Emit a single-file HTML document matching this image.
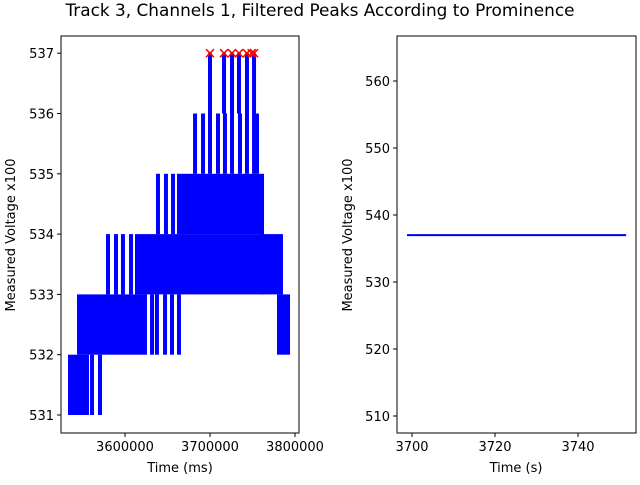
<!DOCTYPE html>
<html><head><meta charset="utf-8"><style>
body{margin:0;background:#fff;}
svg text{font-family:"DejaVu Sans","Liberation Sans",sans-serif;fill:#000;}
</style></head><body>
<svg width="640" height="480" xmlns="http://www.w3.org/2000/svg">
<rect width="640" height="480" fill="#fff"/>
<text x="320" y="16" font-size="16.9" text-anchor="middle">Track 3, Channels 1, Filtered Peaks According to Prominence</text>
<g id="left"></g>
<g id="right"></g>
</svg>
<script>
// Left chart data (ms, voltage x100)
const blockStart=[3535300,3549400,3781200,3614100,3670600,3761200,3663500];
const blockEnd=[3555300,3623500,3791800,3667100,3761200,3783500,3761200];
const blockLow=[531,532,532,533,533,533,534];
const blockHigh=[532,533,533,534,534,534,535];
const spikeTime=[3561200,3570600,3545900,3631800,3637600,3647100,3655300,3663500,3580000,3589400,3597600,3607100,3638800,3648200,3656500,3682400,3691800,3700000,3709400,3717600,3725900,3735300,3743500,3751800,3755300,3700000,3716500,3725900,3734100,3743500,3751800];
const spikeLow=[531,531,532,532,532,532,532,532,533,533,533,533,534,534,534,535,535,535,535,535,535,535,535,535,535,536,536,536,536,536,536];
const spikeHigh=[532,532,533,533,533,533,533,533,534,534,534,534,535,535,535,536,536,536,536,536,536,536,536,536,536,537,537,537,537,537,537];
const peakTime=[3700000,3716500,3725900,3734100,3743500,3751800,3749000];
const peakValue=[537,537,537,537,537,537,537];
const leftXTicks=[3600000,3700000,3800000];
const leftYTicks=[531,532,533,534,535,536,537];
// Right chart data
const rightTime=[3698.8,3751.6];
const rightValue=[537,537];
const rightXTicks=[3700,3720,3740];
const rightYTicks=[510,520,530,540,550,560];

const NS='http://www.w3.org/2000/svg';
function mk(tag,attrs,parent){const e=document.createElementNS(NS,tag);for(const k in attrs)e.setAttribute(k,attrs[k]);parent.appendChild(e);return e;}

// left axes
const L={x0:61,x1:299,y0:36,y1:433};
const lx=t=>125+(t-3600000)/100000*85;
const ly=v=>415-(v-531)*60.3;
const gl=document.getElementById('left');
for(let i=0;i<blockStart.length;i++){
  const r=mk('rect',{x:lx(blockStart[i])-2,y:ly(blockHigh[i]),width:Math.max(lx(blockEnd[i])-lx(blockStart[i]),0)+4,height:ly(blockLow[i])-ly(blockHigh[i]),fill:'#0000ff'},gl);
  
  
}
for(let i=0;i<spikeTime.length;i++){
  const r=mk('rect',{x:lx(spikeTime[i])-2,y:ly(spikeHigh[i]),width:4,height:ly(spikeLow[i])-ly(spikeHigh[i]),fill:'#0000ff'},gl);
  
  
}
for(let i=0;i<peakTime.length;i++){
  const cx=lx(peakTime[i]),cy=ly(peakValue[i]);
  const p=mk('path',{d:`M${cx-4},${cy-4}L${cx+4},${cy+4}M${cx-4},${cy+4}L${cx+4},${cy-4}`,stroke:'#ff0000','stroke-width':1.5,fill:'none'},gl);
  
  
}
const lf=mk('rect',{x:L.x0,y:L.y0,width:L.x1-L.x0,height:L.y1-L.y0,fill:'none',stroke:'#000','stroke-width':1},gl);


leftXTicks.forEach(t=>{const x=lx(t);mk('line',{x1:x,x2:x,y1:L.y1,y2:L.y1+4,stroke:'#000'},gl);
  const tx=mk('text',{x:x,y:L.y1+18,'font-size':13,'text-anchor':'middle'},gl);tx.textContent=t;
  
  });
leftYTicks.forEach(v=>{const y=ly(v);mk('line',{x1:L.x0-4,x2:L.x0,y1:y,y2:y,stroke:'#000'},gl);
  const tx=mk('text',{x:L.x0-7,y:y+5,'font-size':13,'text-anchor':'end'},gl);tx.textContent=v;
  
  });
let t1=mk('text',{x:180,y:472,'font-size':13,'text-anchor':'middle'},gl);t1.textContent='Time (ms)';


let t2=mk('text',{x:15,y:235,'font-size':13,'text-anchor':'middle',transform:'rotate(-90 15 235)'},gl);t2.textContent='Measured Voltage x100';



// right axes
const R={x0:397,x1:636,y0:36,y1:433};
const rx=t=>412+(t-3700)*4.15;
const ry=v=>416-(v-510)*6.7;
const gr=document.getElementById('right');
const pl=mk('polyline',{points:rightTime.map((t,i)=>rx(t)+','+ry(rightValue[i])).join(' '),stroke:'#0000ff','stroke-width':2,fill:'none'},gr);


const rf=mk('rect',{x:R.x0,y:R.y0,width:R.x1-R.x0,height:R.y1-R.y0,fill:'none',stroke:'#000','stroke-width':1},gr);


rightXTicks.forEach(t=>{const x=rx(t);mk('line',{x1:x,x2:x,y1:R.y1,y2:R.y1+4,stroke:'#000'},gr);
  const tx=mk('text',{x:x,y:R.y1+18,'font-size':13,'text-anchor':'middle'},gr);tx.textContent=t;
  
  });
rightYTicks.forEach(v=>{const y=ry(v);mk('line',{x1:R.x0-4,x2:R.x0,y1:y,y2:y,stroke:'#000'},gr);
  const tx=mk('text',{x:R.x0-7,y:y+5,'font-size':13,'text-anchor':'end'},gr);tx.textContent=v;
  
  });
let t3=mk('text',{x:516,y:472,'font-size':13,'text-anchor':'middle'},gr);t3.textContent='Time (s)';


let t4=mk('text',{x:352,y:235,'font-size':13,'text-anchor':'middle',transform:'rotate(-90 352 235)'},gr);t4.textContent='Measured Voltage x100';


</script>
</body></html>
